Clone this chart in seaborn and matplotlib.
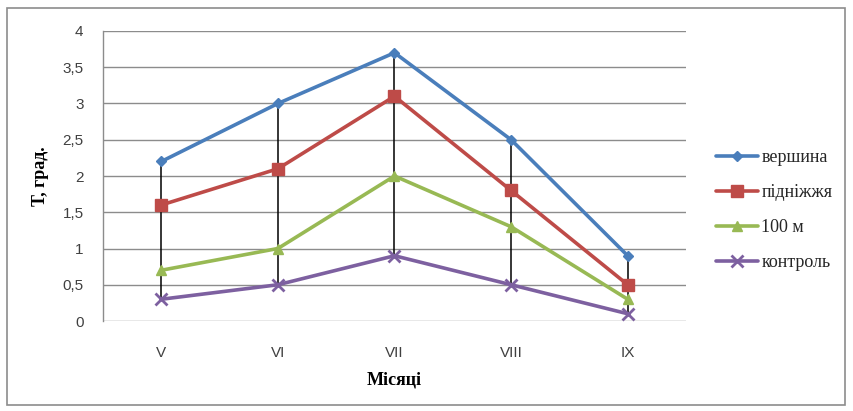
import matplotlib
matplotlib.use("Agg")
import matplotlib.pyplot as plt
from matplotlib.patches import Rectangle
import seaborn as sns
import pandas as pd
import numpy as np

months = ["V", "VI", "VII", "VIII", "IX"]
vershyna = [2.2, 3.0, 3.7, 2.5, 0.9]
pidnizhzhia = [1.6, 2.1, 3.1, 1.8, 0.5]
m100 = [0.7, 1.0, 2.0, 1.3, 0.3]
kontrol = [0.3, 0.5, 0.9, 0.5, 0.1]
series_names = ["вершина", "підніжжя", "100 м", "контроль"]
yticks = [0, 0.5, 1, 1.5, 2, 2.5, 3, 3.5, 4]
ytick_labels = ["0", "0,5", "1", "1,5", "2", "2,5", "3", "3,5", "4"]

colors = ["#4a7ebb", "#be4b48", "#98b954", "#7d60a0"]
markers = ["D", "s", "^", "x"]
msizes = [5, 9, 7, 8]

sns.set_style("white")
plt.rcParams["font.family"] = ["Liberation Sans", "DejaVu Sans"]

rows = []
for name, vals in zip(series_names, [vershyna, pidnizhzhia, m100, kontrol]):
    for i, v in enumerate(vals):
        rows.append({"pos": i, "month": months[i], "value": v, "series": name})
df = pd.DataFrame(rows)

fig = plt.figure(figsize=(8.54, 4.11), dpi=100)
ax = fig.add_axes([103 / 854, 1 - 321 / 411, (686 - 103) / 854, (321 - 31) / 411])

# high-low lines between the series at each month
all_vals = np.array([vershyna, pidnizhzhia, m100, kontrol])
ax.vlines(range(len(months)), all_vals.min(axis=0), all_vals.max(axis=0),
          color="black", lw=1.1, zorder=2)

sns.lineplot(data=df, x="pos", y="value", hue="series", hue_order=series_names,
             palette=colors, ax=ax, lw=2.6, legend=False, zorder=3)
for name, c, m, ms in zip(series_names, colors, markers, msizes):
    sub = df[df.series == name]
    ax.plot(sub["pos"], sub["value"], ls="none", marker=m, color=c, ms=ms,
            mew=2 if m == "x" else 1, zorder=4)

ax.set_xlim(-0.5, len(months) - 0.5)
ax.set_ylim(0, 4)
ax.set_yticks(yticks)
ax.set_yticklabels(ytick_labels)
ax.set_xticks(range(len(months)))
ax.set_xticklabels(months)
ax.tick_params(axis="both", labelsize=11, colors="#404040", length=0)
ax.tick_params(axis="x", pad=18)
ax.tick_params(axis="y", pad=14)
ax.yaxis.grid(True, color="#8c8c8c", lw=1)
ax.xaxis.grid(False)
for s in ["top", "right", "bottom"]:
    ax.spines[s].set_visible(False)
ax.spines["left"].set_color("#8c8c8c")
ax.spines["left"].set_linewidth(1)
ax.set_axisbelow(True)
ax.set_ylabel("Т, град.", family=["Liberation Serif"], fontweight="bold",
              fontsize=13, color="black", labelpad=10)
ax.set_xlabel("Місяці", family=["Liberation Serif"], fontweight="bold",
              fontsize=13, color="black", labelpad=8)

handles = [plt.Line2D([], [], color=c, marker=m, lw=2.6, ms=ms,
                      mew=2 if m == "x" else 1)
           for c, m, ms in zip(colors, markers, msizes)]
fig.legend(handles, series_names, loc="center left",
           bbox_to_anchor=(700 / 854, 1 - 210 / 411), frameon=False,
           prop={"family": "Liberation Serif", "size": 13},
           handlelength=2.3, handletextpad=0.2, labelspacing=1.0)

fig.patches.append(Rectangle((7 / 854, 1 - 405 / 411), 838 / 854, 397 / 411,
                             transform=fig.transFigure, fill=False,
                             edgecolor="#8c8c8c", lw=1.2))

fig.savefig("out.png", dpi=100)
